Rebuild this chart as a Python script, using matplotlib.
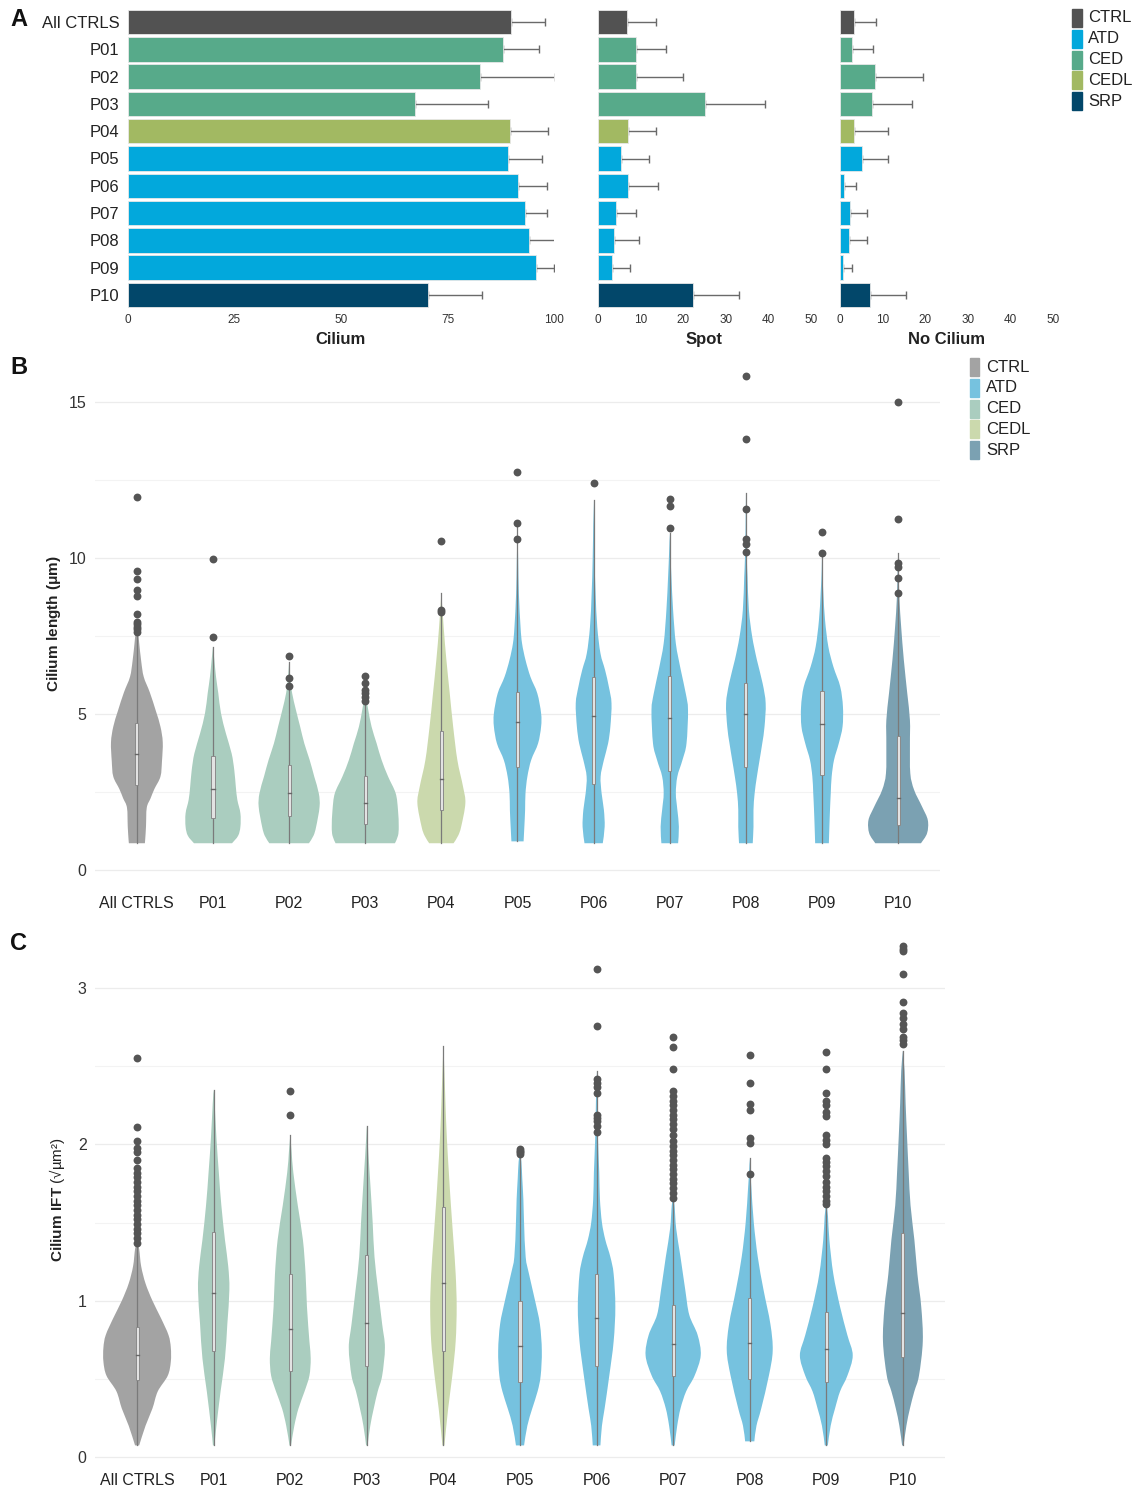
import matplotlib
matplotlib.use("Agg")
import matplotlib.pyplot as plt
from matplotlib.patches import Rectangle, PathPatch
from matplotlib.path import Path

plt.rcParams['font.family'] = ['Liberation Sans', 'DejaVu Sans']
plt.rcParams['mathtext.fontset'] = 'custom'
plt.rcParams['mathtext.rm'] = 'Liberation Sans'
plt.rcParams['mathtext.bf'] = 'Liberation Sans:bold'

# ---------------- data ----------------
categories = ["All CTRLS", "P01", "P02", "P03", "P04", "P05", "P06", "P07", "P08", "P09", "P10"]
groups = ["CTRL", "CED", "CED", "CED", "CEDL", "ATD", "ATD", "ATD", "ATD", "ATD", "SRP"]
legend_groups = ["CTRL", "ATD", "CED", "CEDL", "SRP"]

bar_colors = {"CTRL": "#525252", "ATD": "#02A8DC", "CED": "#57AA8A", "CEDL": "#A2B962", "SRP": "#02476A"}
violin_colors = {"CTRL": "#A3A3A3", "ATD": "#76C2DF", "CED": "#AACDBF", "CEDL": "#CBD9AD", "SRP": "#7BA1B2"}

# Panel A: percentages and SD (positive side only)
cilium_pct = [89.8, 88.1, 82.7, 67.4, 89.6, 89.2, 91.5, 93.1, 94.2, 95.7, 70.5]
cilium_sd = [8.1, 8.3, 17.6, 17.2, 8.9, 8.1, 6.8, 5.3, 6.9, 4.4, 12.7]
spot_pct = [6.8, 8.9, 8.9, 25.1, 7.0, 5.3, 7.1, 4.3, 3.7, 3.4, 22.3]
spot_sd = [6.7, 7.0, 11.0, 14.1, 6.5, 6.7, 6.9, 4.6, 5.9, 4.1, 10.8]
nocil_pct = [3.3, 2.8, 8.1, 7.4, 3.3, 5.2, 1.0, 2.3, 2.0, 0.7, 7.1]
nocil_sd = [5.1, 4.9, 11.4, 9.4, 7.9, 6.0, 2.7, 4.0, 4.3, 2.0, 8.3]

# Panel B: cilium length violin outlines (y values, half widths), box stats, outliers
len_prof_y = [
    [0.86, 1.0, 1.4, 2.0, 2.3, 2.6, 3.0, 3.5, 4.1, 4.6, 5.1, 5.7, 6.2, 6.7, 7.3, 7.6, 7.9],
    [0.86, 1.1, 1.39, 1.82, 2.25, 2.67, 3.2, 3.74, 4.38, 5.03, 5.67, 6.2, 6.74, 7.17],
    [0.86, 1.1, 1.39, 2.03, 2.46, 3.0, 3.53, 4.06, 4.6, 5.13, 5.67, 6.1, 6.68],
    [0.86, 1.1, 1.39, 1.93, 2.46, 3.0, 3.53, 4.06, 4.6, 5.13, 5.45, 5.67],
    [0.86, 1.1, 1.39, 2.14, 2.67, 3.53, 4.6, 5.67, 6.74, 7.8, 8.9],
    [0.92, 1.39, 1.93, 2.46, 3.0, 3.53, 4.06, 4.6, 5.03, 5.67, 6.2, 6.74, 7.27, 7.8, 8.88, 9.95, 11.0],
    [0.86, 1.39, 1.93, 2.46, 3.0, 3.53, 4.06, 4.6, 5.35, 5.88, 6.42, 6.95, 7.8, 8.88, 9.95, 11.23, 11.87],
    [0.86, 1.39, 1.93, 2.46, 3.0, 3.53, 4.06, 5.13, 5.67, 6.42, 7.27, 8.34, 9.41, 10.16, 10.8],
    [0.86, 1.39, 1.93, 2.46, 3.0, 3.53, 4.06, 4.6, 5.35, 5.99, 6.74, 7.49, 8.34, 9.41, 9.95, 11.0, 12.1],
    [0.86, 1.39, 1.93, 2.46, 3.0, 3.53, 4.06, 4.6, 5.24, 5.88, 6.52, 7.17, 8.02, 8.88, 9.63, 10.16],
    [0.86, 1.18, 1.6, 2.03, 2.57, 3.1, 4.06, 4.81, 5.67, 6.74, 7.8, 8.66, 9.41, 10.16],
]
len_prof_w = [
    [0.105, 0.11, 0.12, 0.13, 0.18, 0.23, 0.31, 0.33, 0.34, 0.31, 0.25, 0.17, 0.09, 0.057, 0.03, 0.018, 0.0],
    [0.25, 0.33, 0.36, 0.36, 0.32, 0.30, 0.28, 0.245, 0.17, 0.105, 0.07, 0.04, 0.018, 0.0],
    [0.26, 0.32, 0.355, 0.40, 0.39, 0.33, 0.27, 0.20, 0.145, 0.09, 0.04, 0.018, 0.0],
    [0.39, 0.43, 0.44, 0.43, 0.40, 0.30, 0.215, 0.15, 0.083, 0.04, 0.018, 0.0],
    [0.16, 0.22, 0.26, 0.315, 0.285, 0.21, 0.155, 0.11, 0.066, 0.03, 0.0],
    [0.08, 0.09, 0.10, 0.105, 0.13, 0.18, 0.27, 0.31, 0.31, 0.26, 0.17, 0.105, 0.06, 0.04, 0.018, 0.009, 0.0],
    [0.12, 0.145, 0.135, 0.105, 0.092, 0.135, 0.19, 0.22, 0.235, 0.20, 0.15, 0.09, 0.048, 0.026, 0.013, 0.004, 0.0],
    [0.11, 0.12, 0.10, 0.08, 0.10, 0.167, 0.22, 0.24, 0.21, 0.145, 0.08, 0.044, 0.022, 0.009, 0.0],
    [0.09, 0.10, 0.10, 0.115, 0.145, 0.18, 0.215, 0.245, 0.26, 0.22, 0.145, 0.083, 0.04, 0.022, 0.013, 0.004, 0.0],
    [0.09, 0.097, 0.105, 0.115, 0.127, 0.158, 0.22, 0.27, 0.275, 0.24, 0.15, 0.083, 0.04, 0.018, 0.004, 0.0],
    [0.30, 0.38, 0.39, 0.315, 0.21, 0.16, 0.155, 0.155, 0.12, 0.075, 0.04, 0.018, 0.009, 0.0],
]
len_q1 = [2.73, 1.66, 1.75, 1.47, 1.93, 3.32, 2.76, 3.18, 3.32, 3.05, 1.44]
len_med = [3.71, 2.59, 2.47, 2.16, 2.91, 4.74, 4.94, 4.87, 5.00, 4.68, 2.30]
len_q3 = [4.71, 3.67, 3.36, 3.02, 4.47, 5.72, 6.20, 6.24, 5.99, 5.74, 4.31]
len_outliers = [
    [11.97, 9.58, 9.35, 9.0, 8.79, 8.21, 7.97, 7.88, 7.8, 7.72, 7.65],
    [9.97, 7.48],
    [6.88, 6.17, 5.9],
    [6.22, 6.01, 5.78, 5.67, 5.56, 5.43],
    [10.57, 8.34, 8.29],
    [12.78, 11.12, 10.62],
    [12.43],
    [11.89, 11.69, 10.96],
    [15.86, 13.83, 11.57, 10.62, 10.46, 10.21],
    [10.84, 10.18],
    [15.0, 11.27, 9.84, 9.73, 9.38, 8.88],
]

# Panel C: cilium IFT
ift_prof_y = [
    [0.074, 0.2, 0.31, 0.42, 0.52, 0.61, 0.70, 0.78, 0.89, 1.0, 1.11, 1.22, 1.33, 1.39],
    [0.074, 0.2, 0.42, 0.63, 0.85, 1.07, 1.22, 1.39, 1.61, 1.82, 2.04, 2.26, 2.35],
    [0.074, 0.2, 0.31, 0.42, 0.52, 0.63, 0.74, 0.96, 1.17, 1.39, 1.61, 1.82, 1.95, 2.06],
    [0.074, 0.2, 0.31, 0.42, 0.52, 0.70, 0.85, 1.07, 1.28, 1.5, 1.72, 1.93, 2.12],
    [0.074, 0.31, 0.52, 0.74, 0.96, 1.17, 1.39, 1.61, 1.82, 2.04, 2.26, 2.47, 2.63],
    [0.074, 0.2, 0.31, 0.42, 0.52, 0.68, 0.85, 1.0, 1.17, 1.28, 1.5, 1.65, 1.78, 1.89, 1.95],
    [0.074, 0.2, 0.31, 0.52, 0.74, 0.96, 1.17, 1.28, 1.39, 1.5, 1.65, 1.82, 2.04, 2.26, 2.47],
    [0.074, 0.2, 0.31, 0.42, 0.52, 0.65, 0.78, 0.91, 1.07, 1.28, 1.46, 1.61, 1.65],
    [0.10, 0.2, 0.31, 0.52, 0.68, 0.85, 1.07, 1.28, 1.5, 1.72, 1.82, 1.91],
    [0.074, 0.2, 0.31, 0.42, 0.52, 0.65, 0.78, 0.96, 1.17, 1.39, 1.54, 1.63],
    [0.074, 0.2, 0.31, 0.42, 0.52, 0.74, 0.96, 1.17, 1.39, 1.61, 1.82, 2.04, 2.26, 2.47, 2.6],
]
ift_prof_w = [
    [0.027, 0.11, 0.2, 0.27, 0.40, 0.44, 0.44, 0.41, 0.31, 0.2, 0.11, 0.053, 0.027, 0.0],
    [0.01, 0.036, 0.09, 0.147, 0.178, 0.205, 0.19, 0.147, 0.10, 0.067, 0.036, 0.013, 0.0],
    [0.01, 0.053, 0.107, 0.187, 0.25, 0.267, 0.25, 0.218, 0.20, 0.165, 0.098, 0.04, 0.018, 0.0],
    [0.01, 0.045, 0.09, 0.142, 0.20, 0.236, 0.20, 0.147, 0.10, 0.076, 0.049, 0.022, 0.0],
    [0.013, 0.062, 0.116, 0.16, 0.173, 0.16, 0.13, 0.098, 0.071, 0.045, 0.027, 0.013, 0.0],
    [0.053, 0.096, 0.16, 0.23, 0.27, 0.285, 0.26, 0.197, 0.118, 0.074, 0.053, 0.044, 0.03, 0.018, 0.0],
    [0.05, 0.07, 0.105, 0.166, 0.223, 0.245, 0.223, 0.18, 0.114, 0.07, 0.044, 0.035, 0.018, 0.009, 0.0],
    [0.02, 0.053, 0.096, 0.17, 0.28, 0.36, 0.32, 0.21, 0.158, 0.096, 0.04, 0.018, 0.0],
    [0.06, 0.088, 0.15, 0.25, 0.30, 0.27, 0.18, 0.105, 0.053, 0.022, 0.009, 0.0],
    [0.02, 0.057, 0.114, 0.18, 0.275, 0.345, 0.275, 0.18, 0.092, 0.04, 0.022, 0.0],
    [0.01, 0.046, 0.092, 0.15, 0.21, 0.26, 0.24, 0.19, 0.15, 0.10, 0.076, 0.055, 0.036, 0.022, 0.0],
]
ift_q1 = [0.49, 0.68, 0.55, 0.58, 0.68, 0.48, 0.58, 0.52, 0.50, 0.48, 0.64]
ift_med = [0.65, 1.05, 0.82, 0.86, 1.11, 0.71, 0.89, 0.72, 0.73, 0.69, 0.92]
ift_q3 = [0.83, 1.44, 1.17, 1.29, 1.60, 1.00, 1.17, 0.97, 1.02, 0.93, 1.43]
ift_outliers = [
    [2.55, 2.11, 2.02, 1.98, 1.95, 1.90, 1.85, 1.82, 1.79, 1.76, 1.73, 1.70, 1.67, 1.64, 1.61,
     1.58, 1.55, 1.52, 1.49, 1.46, 1.43, 1.40, 1.37],
    [],
    [2.34, 2.19],
    [],
    [],
    [1.97, 1.96, 1.95, 1.94],
    [3.12, 2.76, 2.42, 2.39, 2.37, 2.33, 2.19, 2.17, 2.15, 2.12, 2.08],
    [2.69, 2.62, 2.48, 2.34, 2.31, 2.28, 2.25, 2.22, 2.19, 2.16, 2.13, 2.10, 2.06, 2.02, 1.99,
     1.96, 1.93, 1.90, 1.87, 1.84, 1.81, 1.78, 1.75, 1.72, 1.69, 1.66],
    [2.57, 2.39, 2.26, 2.22, 2.04, 2.01, 1.81],
    [2.59, 2.48, 2.33, 2.28, 2.25, 2.21, 2.18, 2.06, 2.03, 2.0, 1.91, 1.89, 1.86, 1.83, 1.8,
     1.76, 1.73, 1.7, 1.67, 1.64, 1.62],
    [3.27, 3.25, 3.24, 3.09, 2.91, 2.84, 2.81, 2.77, 2.74, 2.69, 2.67, 2.64],
]

# ---------------- figure ----------------
W, H = 1136, 1489
fig = plt.figure(figsize=(W / 100, H / 100), dpi=100)
fig.patch.set_facecolor("white")


def ax_px(left, top, right, bottom):
    return fig.add_axes([left / W, 1 - bottom / H, (right - left) / W, (bottom - top) / H])


TXT = "#222222"
TICK = "#333333"

# ---------- Panel A ----------
def bar_panel(ax, vals, sds, xlim, ticks, xlabel, show_cats):
    n = len(categories)
    ys = list(range(n))
    cols = [bar_colors[g] for g in groups]
    ax.barh(ys, vals, height=0.9, color=cols, edgecolor="#e8e8e8", linewidth=0.6, zorder=2)
    ax.errorbar(vals, ys, xerr=[[0] * n, sds], fmt="none", ecolor="#6a6a6a",
                elinewidth=1.0, capsize=2.8, capthick=1.0, zorder=1)
    ax.set_xlim(*xlim)
    ax.set_ylim(n - 0.5, -0.5)
    ax.set_xticks(ticks)
    ax.set_xticklabels([str(t) for t in ticks], fontsize=8.5, color=TICK)
    ax.tick_params(axis="x", length=0, pad=4)
    if show_cats:
        ax.set_yticks(ys)
        ax.set_yticklabels(categories, fontsize=12, color=TXT)
        ax.tick_params(axis="y", length=0, pad=6)
    else:
        ax.set_yticks([])
    for s in ax.spines.values():
        s.set_visible(False)
    ax.set_xlabel(xlabel, fontsize=12, fontweight="bold", color=TXT, labelpad=4)


axA1 = ax_px(128, 8.4, 554, 308.6)
bar_panel(axA1, cilium_pct, cilium_sd, (0, 100), [0, 25, 50, 75, 100], "Cilium", True)
axA2 = ax_px(598, 8.4, 811, 308.6)
bar_panel(axA2, spot_pct, spot_sd, (0, 50), [0, 10, 20, 30, 40, 50], "Spot", False)
axA3 = ax_px(840, 8.4, 1053, 308.6)
bar_panel(axA3, nocil_pct, nocil_sd, (0, 50), [0, 10, 20, 30, 40, 50], "No Cilium", False)

# legend A
for k, g in enumerate(legend_groups):
    yc = 18 + k * 20.8
    fig.patches.append(Rectangle((1072 / W, 1 - (yc + 9) / H), 10 / W, 18 / H,
                                 transform=fig.transFigure, color=bar_colors[g]))
    fig.text(1088 / W, 1 - yc / H, g, fontsize=12, color=TXT, va="center", ha="left")


# ---------- Violin panels ----------
def smooth_side(pts):
    """Catmull-Rom curve through the read outline points, as cubic Bezier segments."""
    verts, codes = [], []
    n = len(pts)
    for k in range(n - 1):
        p0 = pts[k - 1] if k > 0 else pts[k]
        p1 = pts[k]
        p2 = pts[k + 1]
        p3 = pts[k + 2] if k + 2 < n else pts[k + 1]
        c1 = (p1[0] + (p2[0] - p0[0]) / 6.0, p1[1] + (p2[1] - p0[1]) / 6.0)
        c2 = (p2[0] - (p3[0] - p1[0]) / 6.0, p2[1] - (p3[1] - p1[1]) / 6.0)
        verts += [c1, c2, p2]
        codes += [Path.CURVE4] * 3
    return verts, codes


def violin_path(cx, ys, ws):
    right = [(cx + w, y) for y, w in zip(ys, ws)]
    left = [(cx - w, y) for y, w in zip(ys[::-1], ws[::-1])]
    verts = [(cx - ws[0], ys[0]), right[0]]
    codes = [Path.MOVETO, Path.LINETO]
    v, c = smooth_side(right)
    verts += v
    codes += c
    v, c = smooth_side(left)
    verts += v
    codes += c
    verts.append((cx - ws[0], ys[0]))
    codes.append(Path.CLOSEPOLY)
    return Path(verts, codes)


def violin_panel(ax, prof_y, prof_w, q1, med, q3, outs, ylim, major, minor, ylabel, xpad, lpad):
    for i, g in enumerate(groups):
        ys = prof_y[i]
        ws = prof_w[i]
        ax.add_patch(PathPatch(violin_path(i, ys, ws), facecolor=violin_colors[g],
                               edgecolor="none", linewidth=0, zorder=2))
        ax.plot([i, i], [ys[0], ys[-1]], color="#7a7a7a", lw=0.9, zorder=3)
        bw = 0.042
        ax.add_patch(Rectangle((i - bw / 2, q1[i]), bw, q3[i] - q1[i], facecolor="#E2E2E2",
                               edgecolor="#8a8a8a", linewidth=0.7, zorder=4))
        ax.plot([i - bw / 2, i + bw / 2], [med[i], med[i]], color="#666666", lw=1.0, zorder=5)
        if outs[i]:
            ax.scatter([i] * len(outs[i]), outs[i], s=32, color="#555555", linewidths=0,
                       zorder=6, clip_on=False)
    ax.set_xlim(-0.55, len(categories) - 0.45)
    ax.set_ylim(*ylim)
    for m in minor:
        ax.axhline(m, color="#f3f3f3", lw=0.8, zorder=0)
    for m in major:
        ax.axhline(m, color="#ececec", lw=0.9, zorder=0)
    ax.set_yticks(major)
    ax.set_yticklabels([str(m) for m in major], fontsize=11.5, color=TICK)
    ax.set_xticks(range(len(categories)))
    ax.set_xticklabels(categories, fontsize=11.5, color=TXT)
    ax.tick_params(axis="y", length=0, pad=6)
    ax.tick_params(axis="x", length=0, pad=xpad)
    for s in ax.spines.values():
        s.set_visible(False)
    ax.set_ylabel(ylabel, fontsize=11, color=TXT, labelpad=lpad)


axB = ax_px(95, 368.2, 940, 879.4)
violin_panel(axB, len_prof_y, len_prof_w, len_q1, len_med, len_q3, len_outliers,
             (-0.3, 16.1), [0, 5, 10, 15], [2.5, 7.5, 12.5],
             r"$\mathbf{Cilium\ length\ (\mu m)}$", 12, 4)

axC = ax_px(95, 933.4, 945, 1464.8)
violin_panel(axC, ift_prof_y, ift_prof_w, ift_q1, ift_med, ift_q3, ift_outliers,
             (-0.05, 3.35), [0, 1, 2, 3], [0.5, 1.5, 2.5],
             r"$\mathbf{Cilium\ IFT}$ (√µm²)", 6, 8)

# legend B
for k, g in enumerate(legend_groups):
    yc = 367 + k * 20.8
    fig.patches.append(Rectangle((970 / W, 1 - (yc + 9) / H), 9 / W, 18 / H,
                                 transform=fig.transFigure, color=violin_colors[g]))
    fig.text(986 / W, 1 - yc / H, g, fontsize=12, color=TXT, va="center", ha="left")

# panel letters
for letter, yc in [("A", 20), ("B", 367), ("C", 943)]:
    fig.text(10 / W, 1 - yc / H, letter, fontsize=17, fontweight="bold", color="#111111",
             va="center", ha="left")

fig.savefig("out.png", dpi=100, facecolor="white")
